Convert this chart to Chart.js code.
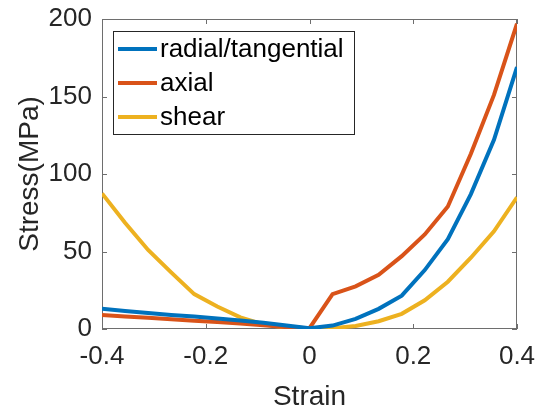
<!DOCTYPE html>
<html>
<head>
<meta charset="utf-8">
<script src="https://cdn.jsdelivr.net/npm/chart.js@4.4.1/dist/chart.umd.min.js"></script>
<style>
  html, body { margin: 0; padding: 0; background: #fff; }
  #wrap { width: 545px; height: 411px; }
</style>
</head>
<body>
<div id="wrap"><canvas id="myChart" width="545" height="411"></canvas></div>
<script>
'use strict';

// strain samples (linspace -0.4..0.4, 19 points)
const strain = [-0.4, -0.3556, -0.3111, -0.2667, -0.2222, -0.1778, -0.1333, -0.0889, -0.0444, 0,
  0.0444, 0.0889, 0.1333, 0.1778, 0.2222, 0.2667, 0.3111, 0.3556, 0.4];

const radial = [13, 11.6, 10.3, 9.1, 8, 6.8, 5.5, 4, 2.2, 0.5,
  2.2, 6.5, 13, 21.5, 38, 58, 87, 122, 169];
const axial = [9, 8.1, 7.2, 6.3, 5.4, 4.5, 3.5, 2.4, 1.2, 0.5,
  22.5, 27.5, 35, 47, 61, 79, 113, 151, 197];
const shear = [87.5, 68.5, 51, 36.5, 22.5, 14.5, 7.5, 3, 0.8, 0,
  0.5, 2, 5, 9.8, 18.5, 30.5, 46, 63, 85];

const seriesNames = ['radial/tangential', 'axial', 'shear'];
const seriesColors = ['#0072BD', '#D95319', '#EDB120'];

const xTicks = [-0.4, -0.2, 0, 0.2, 0.4];
const yTicks = [0, 50, 100, 150, 200];

const FONT = '"Liberation Sans", Arial, Helvetica, sans-serif';
const AXIS_COLOR = '#6e6e6e';
const TEXT_COLOR = '#262626';

function toPoints(values) {
	return strain.map((x, i) => ({ x: x, y: values[i] }));
}

// MATLAB-like box with inward ticks
const boxPlugin = {
	id: 'boxPlugin',
	beforeDatasetsDraw(chart) {
		const { ctx, chartArea: a, scales } = chart;
		ctx.save();
		ctx.strokeStyle = AXIS_COLOR;
		ctx.lineWidth = 1;
		ctx.strokeRect(a.left + 0.5, a.top + 0.5, a.right - a.left - 1, a.bottom - a.top - 1);
		ctx.beginPath();
		const len = 5;
		xTicks.forEach(v => {
			const px = Math.round(scales.x.getPixelForValue(v)) + 0.5;
			ctx.moveTo(px, a.bottom);
			ctx.lineTo(px, a.bottom - len);
			ctx.moveTo(px, a.top);
			ctx.lineTo(px, a.top + len);
		});
		yTicks.forEach(v => {
			const py = Math.round(scales.y.getPixelForValue(v)) + 0.5;
			ctx.moveTo(a.left, py);
			ctx.lineTo(a.left + len, py);
			ctx.moveTo(a.right, py);
			ctx.lineTo(a.right - len, py);
		});
		ctx.stroke();
		ctx.restore();
	}
};

// boxed legend in the upper left of the axes
const legendBox = {
	id: 'legendBox',
	afterDatasetsDraw(chart) {
		const { ctx, chartArea: a } = chart;
		const x0 = a.left + 11, y0 = a.top + 12, w = 241, h = 103;
		ctx.save();
		ctx.fillStyle = '#fff';
		ctx.fillRect(x0, y0, w, h);
		ctx.strokeStyle = '#262626';
		ctx.lineWidth = 1;
		ctx.strokeRect(x0 + 0.5, y0 + 0.5, w, h);
		ctx.font = '26px ' + FONT;
		ctx.textBaseline = 'middle';
		ctx.fillStyle = '#000';
		chart.data.datasets.forEach((ds, i) => {
			const cy = y0 + 18 + i * 34;
			ctx.strokeStyle = ds.borderColor;
			ctx.lineWidth = 4;
			ctx.beginPath();
			ctx.moveTo(x0 + 5, cy);
			ctx.lineTo(x0 + 44, cy);
			ctx.stroke();
			ctx.fillText(ds.label, x0 + 47, cy + 1);
		});
		ctx.restore();
	}
};

const ctx = document.getElementById('myChart');

new Chart(ctx, {
	type: 'line',
	data: {
		datasets: seriesNames.map((name, i) => ({
			label: name,
			data: toPoints([radial, axial, shear][i]),
			borderColor: seriesColors[i],
			backgroundColor: seriesColors[i],
			borderWidth: 4,
			pointRadius: 0,
			tension: 0,
			fill: false,
		}))
	},
	options: {
		responsive: false,
		animation: false,
		layout: { padding: { left: 0, top: 19, right: 28, bottom: 0 } },
		plugins: {
			legend: { display: false },
			tooltip: { enabled: false },
		},
		scales: {
			x: {
				type: 'linear',
				min: -0.4,
				max: 0.4,
				afterBuildTicks(scale) {
					scale.ticks = xTicks.map(v => ({ value: v }));
				},
				afterFit(scale) {
					scale.height = 82;
					scale.paddingLeft = 0;
					scale.paddingRight = 0;
				},
				grid: { display: false, drawTicks: false },
				border: { display: false },
				ticks: {
					padding: 12,
					color: TEXT_COLOR,
					font: { family: FONT, size: 26 },
					maxRotation: 0,
					callback: v => String(Math.round(v * 10) / 10),
				},
				title: {
					display: true,
					text: 'Strain',
					color: TEXT_COLOR,
					font: { family: FONT, size: 28, lineHeight: 1.0 },
					padding: { top: 0, bottom: 0 },
				}
			},
			y: {
				type: 'linear',
				min: 0,
				max: 200,
				afterBuildTicks(scale) {
					scale.ticks = yTicks.map(v => ({ value: v }));
				},
				afterFit(scale) {
					scale.width = 102;
					scale.paddingTop = 0;
					scale.paddingBottom = 0;
				},
				grid: { display: false, drawTicks: false },
				border: { display: false },
				ticks: {
					padding: 10,
					color: TEXT_COLOR,
					font: { family: FONT, size: 26 },
				},
				title: {
					display: true,
					text: 'Stress(MPa)',
					color: TEXT_COLOR,
					font: { family: FONT, size: 28 },
					padding: { top: 13, bottom: 0 },
				}
			}
		}
	},
	plugins: [boxPlugin, legendBox]
});
</script>
</body>
</html>
